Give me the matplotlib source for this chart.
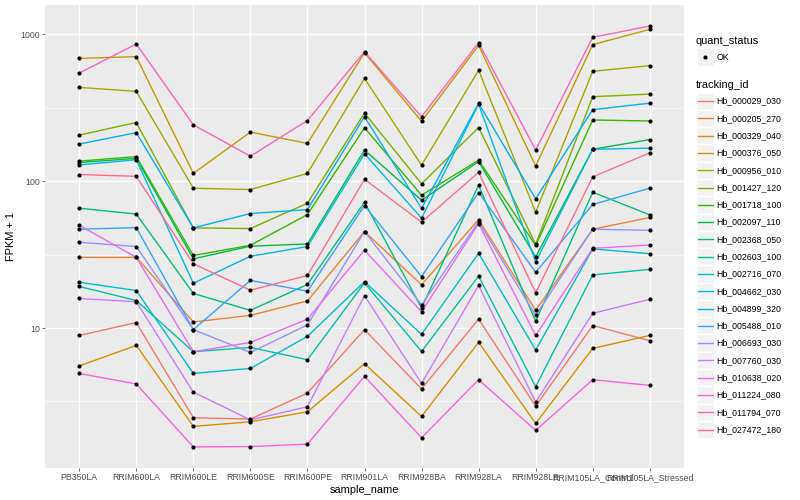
import numpy as np
import matplotlib.pyplot as plt
from matplotlib.patches import Rectangle
from matplotlib.ticker import FixedLocator, NullFormatter

plt.rcParams["font.family"] = ["Liberation Sans", "DejaVu Sans"]

samples = ['PB350LA', 'RRIM600LA', 'RRIM600LE', 'RRIM600SE', 'RRIM600PE', 'RRIM901LA',
           'RRIM928BA', 'RRIM928LA', 'RRIM928LE', 'RRIM105LA_Control', 'RRIM105LA_Stressed']

# FPKM + 1 per gene, one value per sample
hb_000029_030 = [8.9, 10.9, 2.45, 2.40, 3.61, 9.76, 3.85, 11.5, 2.94, 10.4, 8.2]
hb_000205_270 = [30.3, 30.3, 11.0, 12.2, 15.3, 45.4, 19.7, 54.8, 13.2, 47.1, 56.6]
hb_000329_040 = [5.52, 7.62, 2.14, 2.30, 2.69, 5.72, 2.50, 8.0, 2.24, 7.27, 8.9]
hb_000376_050 = [686, 705, 113, 216, 181, 750, 256, 841, 127, 851, 1081]
hb_000956_010 = [435, 409, 89.6, 87.7, 113, 501, 128.5, 569, 61.5, 560, 612]
hb_001427_120 = [206, 251, 48.1, 47.6, 70.8, 291, 96, 232, 37.2, 376, 392]
hb_001718_100 = [137, 147, 31.2, 36.6, 59.3, 231, 80.3, 139, 36.5, 261, 257]
hb_002097_110 = [134, 143, 29.6, 36.1, 37.4, 163, 74.2, 136, 30.5, 165, 192]
hb_002368_050 = [65.5, 59.7, 17.2, 13.2, 19.8, 71.9, 13.7, 94, 11.1, 84.1, 59.0]
hb_002603_100 = [19.2, 15.4, 6.90, 7.38, 6.09, 20.3, 6.93, 22.6, 3.99, 23.0, 25.1]
hb_002716_070 = [20.5, 18.0, 4.91, 5.31, 8.78, 20.7, 9.06, 32.3, 7.09, 34.6, 32.1]
hb_004662_030 = [129, 140, 20.2, 30.8, 35.9, 154, 56.0, 335, 28.2, 165, 168]
hb_004899_320 = [179, 214, 48.1, 60.2, 64.1, 275, 65.2, 339, 75.9, 307, 340]
hb_005488_010 = [47.1, 48.3, 9.76, 21.1, 17.8, 68.3, 22.4, 83.7, 24.0, 69.4, 89.6]
hb_006693_030 = [38.4, 35.9, 9.76, 6.82, 10.5, 45.4, 14.4, 52.9, 12.2, 47.1, 46.3]
hb_007760_030 = [15.9, 15.1, 3.66, 2.37, 2.91, 16.6, 4.20, 19.5, 3.13, 12.6, 15.7]
hb_010638_020 = [50.1, 30.3, 6.90, 7.98, 11.5, 33.9, 12.9, 51.5, 8.9, 34.9, 36.8]
hb_011224_080 = [4.91, 4.16, 1.55, 1.56, 1.62, 4.69, 1.79, 4.45, 2.01, 4.45, 4.07]
hb_011794_070 = [545, 859, 242, 148, 259, 762, 275, 878, 163, 955, 1139]
hb_027472_180 = [111, 108, 27.4, 18.1, 22.8, 103, 52.6, 115, 17.4, 107, 156]

tracking_ids = ['Hb_000029_030', 'Hb_000205_270', 'Hb_000329_040', 'Hb_000376_050',
                'Hb_000956_010', 'Hb_001427_120', 'Hb_001718_100', 'Hb_002097_110',
                'Hb_002368_050', 'Hb_002603_100', 'Hb_002716_070', 'Hb_004662_030',
                'Hb_004899_320', 'Hb_005488_010', 'Hb_006693_030', 'Hb_007760_030',
                'Hb_010638_020', 'Hb_011224_080', 'Hb_011794_070', 'Hb_027472_180']
series = [hb_000029_030, hb_000205_270, hb_000329_040, hb_000376_050, hb_000956_010,
          hb_001427_120, hb_001718_100, hb_002097_110, hb_002368_050, hb_002603_100,
          hb_002716_070, hb_004662_030, hb_004899_320, hb_005488_010, hb_006693_030,
          hb_007760_030, hb_010638_020, hb_011224_080, hb_011794_070, hb_027472_180]

# ggplot2 hue palette, 20 levels
colors = ["#F8766D", "#EA8331", "#D89000", "#C09B00", "#A3A500", "#7CAE00", "#39B600",
          "#00BB4E", "#00BF7D", "#00C1A3", "#00BFC4", "#00BAE0", "#00B0F6", "#35A2FF",
          "#9590FF", "#C77CFF", "#E76BF3", "#FA62DB", "#FF62BC", "#FF6C90"]

W, H = 800, 500
fig = plt.figure(figsize=(8, 5), dpi=100)
ax = fig.add_axes([45 / W, 32 / H, 639 / W, 463 / H])

x = np.arange(len(samples))
for vals, c in zip(series, colors):
    ax.plot(x, vals, color=c, lw=1.0, zorder=2)
for vals in series:
    ax.scatter(x, vals, s=9, color='black', zorder=3, linewidths=0)

ax.set_yscale('log')
allv = np.concatenate([np.array(s) for s in series])
lo, hi = np.log10(allv.min()), np.log10(allv.max())
pad = 0.05 * (hi - lo)
ax.set_ylim(10 ** (lo - pad), 10 ** (hi + pad))
ax.set_xlim(-0.6, len(samples) - 0.4)

ax.set_yticks([10, 100, 1000])
ax.set_yticklabels(['10', '100', '1000'])
ax.yaxis.set_minor_locator(FixedLocator([10 ** 0.5, 10 ** 1.5, 10 ** 2.5]))
ax.yaxis.set_minor_formatter(NullFormatter())
ax.set_xticks(x)
ax.set_xticklabels(samples)

# ggplot grey theme
ax.set_facecolor('#EBEBEB')
ax.set_axisbelow(True)
ax.grid(which='major', color='white', lw=1.0)
ax.grid(which='minor', axis='y', color='white', lw=0.5)
for s in ax.spines.values():
    s.set_visible(False)
ax.tick_params(axis='both', which='major', length=2, width=0.5, color='#333333',
               labelsize=6.3, labelcolor='#4D4D4D', pad=1.6)
ax.tick_params(axis='y', which='minor', length=0)
ax.set_xlabel('sample_name', fontsize=7.9, labelpad=2)
ax.set_ylabel('FPKM + 1', fontsize=7.9, labelpad=3)

# legend drawn in pixel coordinates
lax = fig.add_axes([0, 0, 1, 1], zorder=5)
lax.set_xlim(0, W)
lax.set_ylim(H, 0)
lax.axis('off')
k = 17.28
lax.text(696, 40.7, 'quant_status', fontsize=7.9, va='center', ha='left')
lax.add_patch(Rectangle((696.5, 57 - k / 2), k, k, fc='#F2F2F2', ec='white', lw=1.0))
lax.scatter([705], [57], s=9, color='black', linewidths=0)
lax.text(716.7, 57, 'OK', fontsize=6.3, va='center', ha='left')

lax.text(696, 84.5, 'tracking_id', fontsize=7.9, va='center', ha='left')
for i, (tid, c) in enumerate(zip(tracking_ids, colors)):
    yc = 101.2 + i * k
    lax.add_patch(Rectangle((696.5, yc - k / 2), k, k, fc='#F2F2F2', ec='white', lw=1.0))
    lax.plot([698, 712.5], [yc, yc], color=c, lw=1.0)
    lax.text(716.7, yc, tid, fontsize=6.3, va='center', ha='left')

fig.savefig('out.png', dpi=100)
